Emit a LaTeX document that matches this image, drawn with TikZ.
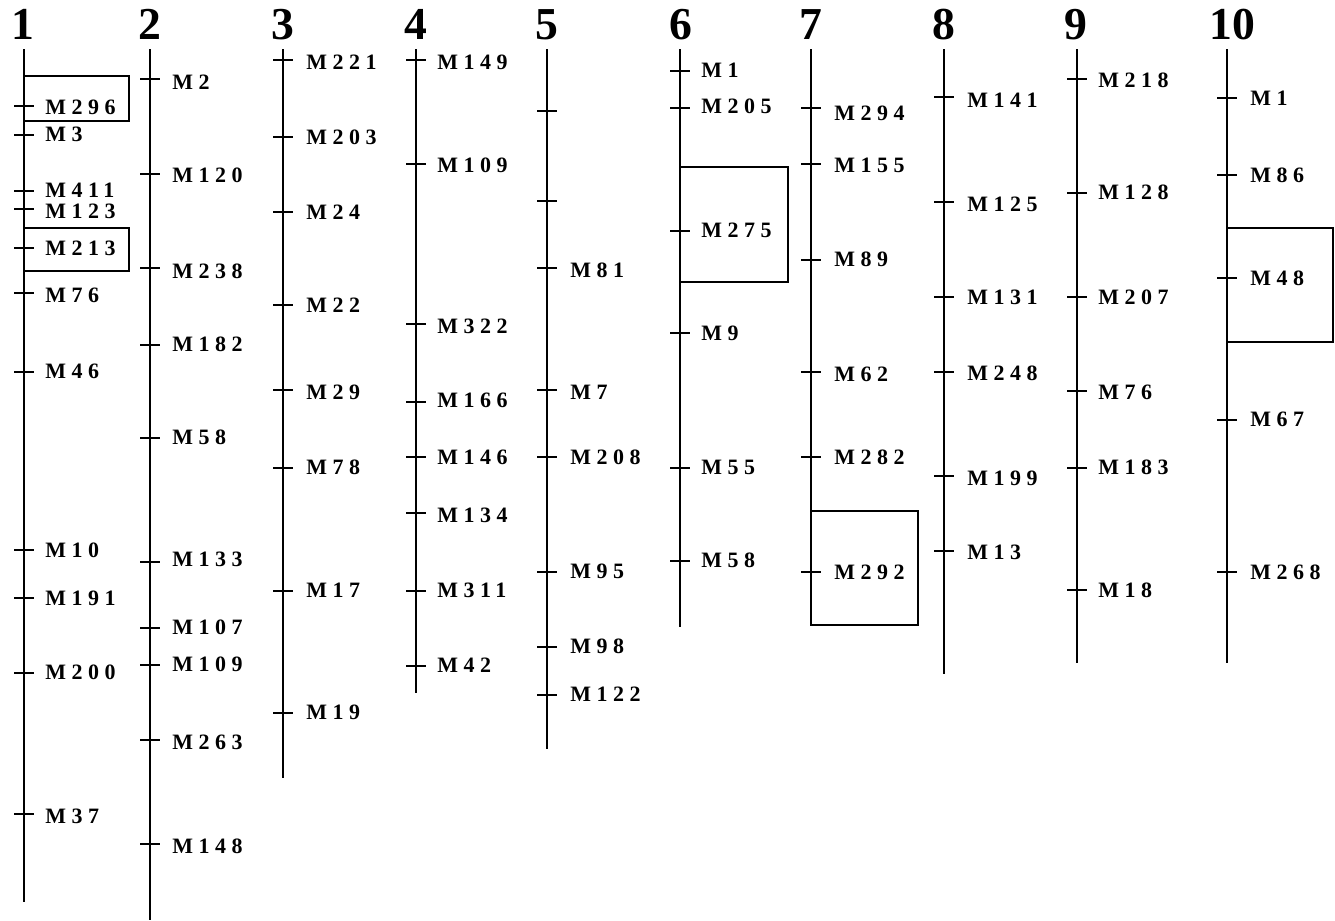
\documentclass[tikz,border=0pt]{standalone}
\usepackage{fontspec}
\setmainfont{Liberation Serif}
\newfontfamily\markfont{Liberation Serif}[LetterSpace=25]
\usepackage{tikz}
\tikzset{
  chrom/.style={line width=1.3pt,draw=black},
  tick/.style={line width=1.3pt,draw=black},
  qtlbox/.style={line width=1.3pt,draw=black},
  marker/.style={anchor=west,inner sep=0pt,font=\markfont\bfseries\fontsize{12.5}{14}\selectfont},
  chrname/.style={anchor=base,inner sep=0pt,font=\bfseries\fontsize{26}{28}\selectfont}
}

\begin{document}
\begin{tikzpicture}[x=0.02cm,y=-0.02cm]
\useasboundingbox (0,0) rectangle (1335,920);
% chromosome 1
\node[chrname] (c1) at (23,39) {1};
\draw[chrom] (24,49) -- (24,902);
\draw[qtlbox] (24,76) rectangle (129,121);
\draw[qtlbox] (24,228) rectangle (129,271);
\draw[tick] (14,106) -- (34,106); \node[marker] (c1m296) at (45,107) {M296};
\draw[tick] (14,135) -- (34,135); \node[marker] (c1m3) at (45,134) {M3};
\draw[tick] (14,191) -- (34,191); \node[marker] (c1m411) at (45,190) {M411};
\draw[tick] (14,209) -- (34,209); \node[marker] (c1m123) at (45,211) {M123};
\draw[tick] (14,248) -- (34,248); \node[marker] (c1m213) at (45,248) {M213};
\draw[tick] (14,293) -- (34,293); \node[marker] (c1m76) at (45,295) {M76};
\draw[tick] (14,372) -- (34,372); \node[marker] (c1m46) at (45,371) {M46};
\draw[tick] (14,550) -- (34,550); \node[marker] (c1m10) at (45,550) {M10};
\draw[tick] (14,598) -- (34,598); \node[marker] (c1m191) at (45,598) {M191};
\draw[tick] (14,673) -- (34,673); \node[marker] (c1m200) at (45,672) {M200};
\draw[tick] (14,814) -- (34,814); \node[marker] (c1m37) at (45,816) {M37};
% chromosome 2
\node[chrname] (c2) at (150,39) {2};
\draw[chrom] (150,49) -- (150,920);
\draw[tick] (140,79) -- (160,79); \node[marker] (c2m2) at (172,82) {M2};
\draw[tick] (140,174) -- (160,174); \node[marker] (c2m120) at (172,175) {M120};
\draw[tick] (140,268) -- (160,268); \node[marker] (c2m238) at (172,271) {M238};
\draw[tick] (140,345) -- (160,345); \node[marker] (c2m182) at (172,344) {M182};
\draw[tick] (140,438) -- (160,438); \node[marker] (c2m58) at (172,437) {M58};
\draw[tick] (140,562) -- (160,562); \node[marker] (c2m133) at (172,559) {M133};
\draw[tick] (140,628) -- (160,628); \node[marker] (c2m107) at (172,627) {M107};
\draw[tick] (140,665) -- (160,665); \node[marker] (c2m109) at (172,664) {M109};
\draw[tick] (140,740) -- (160,740); \node[marker] (c2m263) at (172,742) {M263};
\draw[tick] (140,844) -- (160,844); \node[marker] (c2m148) at (172,846) {M148};
% chromosome 3
\node[chrname] (c3) at (283,39) {3};
\draw[chrom] (283,49) -- (283,778);
\draw[tick] (273,60) -- (293,60); \node[marker] (c3m221) at (306,62) {M221};
\draw[tick] (273,137) -- (293,137); \node[marker] (c3m203) at (306,137) {M203};
\draw[tick] (273,212) -- (293,212); \node[marker] (c3m24) at (306,212) {M24};
\draw[tick] (273,305) -- (293,305); \node[marker] (c3m22) at (306,305) {M22};
\draw[tick] (273,390) -- (293,390); \node[marker] (c3m29) at (306,392) {M29};
\draw[tick] (273,468) -- (293,468); \node[marker] (c3m78) at (306,467) {M78};
\draw[tick] (273,591) -- (293,591); \node[marker] (c3m17) at (306,590) {M17};
\draw[tick] (273,713) -- (293,713); \node[marker] (c3m19) at (306,712) {M19};
% chromosome 4
\node[chrname] (c4) at (416,39) {4};
\draw[chrom] (416,49) -- (416,693);
\draw[tick] (406,60) -- (426,60); \node[marker] (c4m149) at (437,62) {M149};
\draw[tick] (406,164) -- (426,164); \node[marker] (c4m109) at (437,165) {M109};
\draw[tick] (406,324) -- (426,324); \node[marker] (c4m322) at (437,326) {M322};
\draw[tick] (406,402) -- (426,402); \node[marker] (c4m166) at (437,400) {M166};
\draw[tick] (406,457) -- (426,457); \node[marker] (c4m146) at (437,457) {M146};
\draw[tick] (406,513) -- (426,513); \node[marker] (c4m134) at (437,515) {M134};
\draw[tick] (406,591) -- (426,591); \node[marker] (c4m311) at (437,590) {M311};
\draw[tick] (406,666) -- (426,666); \node[marker] (c4m42) at (437,665) {M42};
% chromosome 5
\node[chrname] (c5) at (547,39) {5};
\draw[chrom] (547,49) -- (547,749);
\draw[tick] (537,111) -- (557,111);
\draw[tick] (537,201) -- (557,201);
\draw[tick] (537,268) -- (557,268); \node[marker] (c5m81) at (570,270) {M81};
\draw[tick] (537,390) -- (557,390); \node[marker] (c5m7) at (570,392) {M7};
\draw[tick] (537,457) -- (557,457); \node[marker] (c5m208) at (570,457) {M208};
\draw[tick] (537,572) -- (557,572); \node[marker] (c5m95) at (570,571) {M95};
\draw[tick] (537,647) -- (557,647); \node[marker] (c5m98) at (570,646) {M98};
\draw[tick] (537,695) -- (557,695); \node[marker] (c5m122) at (570,694) {M122};
% chromosome 6
\node[chrname] (c6) at (681,39) {6};
\draw[chrom] (680,49) -- (680,627);
\draw[qtlbox] (680,167) rectangle (788,282);
\draw[tick] (670,71) -- (690,71); \node[marker] (c6m1) at (701,70) {M1};
\draw[tick] (670,108) -- (690,108); \node[marker] (c6m205) at (701,106) {M205};
\draw[tick] (670,231) -- (690,231); \node[marker] (c6m275) at (701,230) {M275};
\draw[tick] (670,333) -- (690,333); \node[marker] (c6m9) at (701,333) {M9};
\draw[tick] (670,468) -- (690,468); \node[marker] (c6m55) at (701,467) {M55};
\draw[tick] (670,561) -- (690,561); \node[marker] (c6m58) at (701,560) {M58};
% chromosome 7
\node[chrname] (c7) at (811,39) {7};
\draw[chrom] (811,49) -- (811,625);
\draw[qtlbox] (811,511) rectangle (918,625);
\draw[tick] (801,108) -- (821,108); \node[marker] (c7m294) at (834,113) {M294};
\draw[tick] (801,164) -- (821,164); \node[marker] (c7m155) at (834,165) {M155};
\draw[tick] (801,260) -- (821,260); \node[marker] (c7m89) at (834,259) {M89};
\draw[tick] (801,372) -- (821,372); \node[marker] (c7m62) at (834,374) {M62};
\draw[tick] (801,457) -- (821,457); \node[marker] (c7m282) at (834,457) {M282};
\draw[tick] (801,572) -- (821,572); \node[marker] (c7m292) at (834,572) {M292};
% chromosome 8
\node[chrname] (c8) at (944,39) {8};
\draw[chrom] (944,49) -- (944,674);
\draw[tick] (934,97) -- (954,97); \node[marker] (c8m141) at (967,100) {M141};
\draw[tick] (934,202) -- (954,202); \node[marker] (c8m125) at (967,204) {M125};
\draw[tick] (934,297) -- (954,297); \node[marker] (c8m131) at (967,297) {M131};
\draw[tick] (934,372) -- (954,372); \node[marker] (c8m248) at (967,373) {M248};
\draw[tick] (934,476) -- (954,476); \node[marker] (c8m199) at (967,478) {M199};
\draw[tick] (934,551) -- (954,551); \node[marker] (c8m13) at (967,552) {M13};
% chromosome 9
\node[chrname] (c9) at (1076,39) {9};
\draw[chrom] (1077,49) -- (1077,663);
\draw[tick] (1067,79) -- (1087,79); \node[marker] (c9m218) at (1098,80) {M218};
\draw[tick] (1067,193) -- (1087,193); \node[marker] (c9m128) at (1098,192) {M128};
\draw[tick] (1067,297) -- (1087,297); \node[marker] (c9m207) at (1098,297) {M207};
\draw[tick] (1067,391) -- (1087,391); \node[marker] (c9m76) at (1098,392) {M76};
\draw[tick] (1067,468) -- (1087,468); \node[marker] (c9m183) at (1098,467) {M183};
\draw[tick] (1067,590) -- (1087,590); \node[marker] (c9m18) at (1098,590) {M18};
% chromosome 10
\node[chrname] (c10) at (1232,39) {10};
\draw[chrom] (1227,49) -- (1227,663);
\draw[qtlbox] (1227,228) rectangle (1333,342);
\draw[tick] (1217,98) -- (1237,98); \node[marker] (c10m1) at (1250,98) {M1};
\draw[tick] (1217,175) -- (1237,175); \node[marker] (c10m86) at (1250,175) {M86};
\draw[tick] (1217,278) -- (1237,278); \node[marker] (c10m48) at (1250,278) {M48};
\draw[tick] (1217,420) -- (1237,420); \node[marker] (c10m67) at (1250,419) {M67};
\draw[tick] (1217,572) -- (1237,572); \node[marker] (c10m268) at (1250,572) {M268};
\end{tikzpicture}
\end{document}
